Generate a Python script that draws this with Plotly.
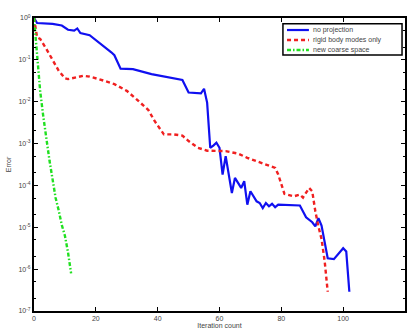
import plotly.graph_objects as go

# ---- data (log10 of error) ----
blue_iter = [0, 1, 6, 9, 11, 13, 14, 15, 18, 21, 25, 26, 28, 32, 34, 38, 48, 50, 54, 55, 56, 57, 58, 59, 60,
             61, 62, 64, 65, 67, 68, 69, 70, 72, 73, 74, 75, 76, 77, 78, 79, 86, 88, 90, 91, 92, 93, 95, 97,
             100, 101, 102]
blue_log = [0.0, -0.12, -0.14, -0.18, -0.28, -0.30, -0.25, -0.36, -0.41, -0.58, -0.82, -0.89, -1.21, -1.22,
            -1.26, -1.34, -1.48, -1.78, -1.80, -1.69, -2.02, -3.10, -3.05, -2.98, -3.10, -3.74, -3.30, -4.18,
            -3.82, -4.06, -3.90, -4.46, -4.14, -4.38, -4.42, -4.54, -4.42, -4.50, -4.44, -4.52, -4.46, -4.48,
            -4.76, -4.88, -4.98, -4.78, -4.96, -5.74, -5.76, -5.50, -5.58, -6.54]

red_iter = [0, 1, 2, 4, 8, 10, 11, 14, 16, 18, 21, 26, 30, 33, 37, 39, 42, 45, 48, 50, 53, 56, 59, 62, 66,
            69, 72, 75, 78, 79, 80, 81, 84, 86, 87, 89, 90, 91, 92, 93, 94, 95]
red_log = [0.0, -0.46, -0.50, -0.74, -1.26, -1.44, -1.46, -1.42, -1.38, -1.40, -1.46, -1.58, -1.74, -1.93,
           -2.20, -2.46, -2.78, -2.78, -2.81, -2.94, -3.10, -3.17, -3.18, -3.18, -3.24, -3.34, -3.42, -3.50,
           -3.58, -3.74, -3.96, -4.20, -4.26, -4.22, -4.29, -4.06, -4.14, -4.62, -4.98, -5.28, -5.80, -6.54]

green_iter = [0, 1, 2, 3, 4, 5, 6, 7, 8, 9, 10, 11, 12]
green_log = [0.0, -0.85, -1.75, -2.35, -2.90, -3.40, -3.85, -4.30, -4.60, -4.95, -5.20, -5.60, -6.10]

series_names = ["no projection", "rigid body modes only", "new coarse space"]
x_ticks = [0, 20, 40, 60, 80, 100, 120]
y_tick_exps = [0, -1, -2, -3, -4, -5, -6, -7]
x_title = "Iteration count"
y_title = "Error"

colors = ["#1010f0", "#f02020", "#20e020"]
dashes = ["solid", "4px,3px", "4px,2px,1.5px,2px"]
widths = [2.2, 2.4, 2.4]

fig = go.Figure()
for xs, ls, name, c, d, w in zip([blue_iter, red_iter, green_iter], [blue_log, red_log, green_log],
                                 series_names, colors, dashes, widths):
    fig.add_trace(go.Scatter(x=xs, y=[10 ** v for v in ls], mode="lines", name=name,
                             line=dict(color=c, dash=d, width=w), showlegend=False))

tick_font = dict(family="Liberation Sans, Arial, sans-serif", size=7, color="#444")

fig.update_layout(
    width=409, height=335,
    margin=dict(l=34, r=4, t=18, b=24),
    paper_bgcolor="white", plot_bgcolor="white",
    showlegend=False,
    xaxis=dict(range=[0, 120], tickvals=x_ticks, ticktext=[str(v) for v in x_ticks],
               ticks="inside", ticklen=4, tickwidth=1, tickcolor="black",
               showline=True, linecolor="black", linewidth=2, mirror="ticks",
               showgrid=False, zeroline=False, tickfont=tick_font, automargin=False,
               title=dict(text=x_title, font=tick_font, standoff=2)),
    yaxis=dict(type="log", range=[-7, 0], tickvals=[10 ** e for e in y_tick_exps],
               ticktext=["10<sup>%d</sup>" % e for e in y_tick_exps],
               ticks="inside", ticklen=4, tickwidth=1, tickcolor="black",
               showline=True, linecolor="black", linewidth=2, mirror="ticks",
               showgrid=False, zeroline=False, tickfont=tick_font, automargin=False,
               minor=dict(ticks="inside", ticklen=2, tickcolor="black", showgrid=False),
               title=dict(text=y_title, font=tick_font, standoff=6)),
)

# manual legend box
lx0, lx1, ly0, ly1 = 0.671, 0.992, 0.874, 0.980
fig.add_shape(type="rect", xref="paper", yref="paper", x0=lx0, x1=lx1, y0=ly0, y1=ly1,
              line=dict(color="black", width=1.5), fillcolor="white", layer="above")
row_y = [0.959, 0.925, 0.891]
for name, c, d, w, yy in zip(series_names, colors, dashes, widths, row_y):
    fig.add_shape(type="line", xref="paper", yref="paper", x0=0.682, x1=0.741, y0=yy, y1=yy,
                  line=dict(color=c, dash=d, width=w), layer="above")
    fig.add_annotation(xref="paper", yref="paper", x=0.747, y=yy, text=name, showarrow=False,
                       xanchor="left", yanchor="middle", font=tick_font)

fig.write_html("out.html")
